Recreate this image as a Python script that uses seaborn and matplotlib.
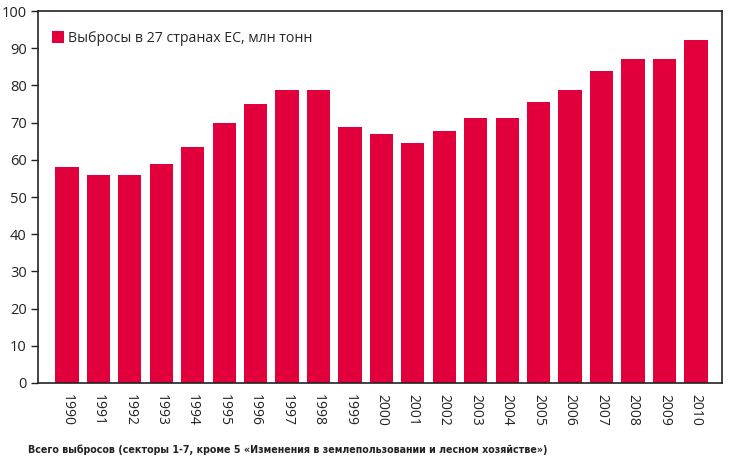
import matplotlib
matplotlib.use("Agg")
import matplotlib.pyplot as plt
import seaborn as sns
import pandas as pd
from matplotlib.patches import Patch

years = [str(y) for y in range(1990, 2011)]
values = [58.1, 56.0, 56.0, 59.0, 63.5, 69.8, 74.9, 78.7, 78.7, 68.7, 67.0,
          64.6, 67.7, 71.3, 71.3, 75.6, 78.7, 83.9, 87.2, 87.2, 92.2]
series_label = "Выбросы в 27 странах ЕС, млн тонн"
footnote = "Всего выбросов (секторы 1-7, кроме 5 «Изменения в землепользовании и лесном хозяйстве»)"
yticks = list(range(0, 101, 10))

sns.set_theme(style="white")
plt.rcParams['font.family'] = ['Open Sans', 'DejaVu Sans']

color = "#E2003C"
df = pd.DataFrame({"year": years, "value": values})

fig = plt.figure(figsize=(7.3, 4.62), dpi=100)
ax = fig.add_axes([0.052, 0.171, 0.937, 0.805])
sns.barplot(data=df, x="year", y="value", color=color, width=0.74,
            saturation=1, ax=ax, edgecolor="none")

ax.set_ylim(0, 100)
ax.set_xlim(-0.92, 20.83)
ax.set_yticks(yticks)
ax.set_yticklabels([str(t) for t in yticks], fontsize=10.5, color="#222222")
ax.set_xticks(range(len(years)))
ax.set_xticklabels(years, rotation=270, fontsize=10, color="#222222")
ax.tick_params(axis="y", direction="out", length=5, width=1, color="#222222", left=True, pad=3)
ax.tick_params(axis="x", length=0, pad=8)
ax.set_xlabel("")
ax.set_ylabel("")
for s in ax.spines.values():
    s.set_visible(True)
    s.set_color("#222222")
    s.set_linewidth(1.2)

leg = ax.legend(handles=[Patch(facecolor=color, edgecolor="none", label=series_label)],
                loc="upper left", frameon=False, fontsize=10.2,
                handlelength=0.85, handleheight=0.85, handletextpad=0.3,
                bbox_to_anchor=(0.0, 0.985), borderaxespad=0.6)

fig.text(0.038, 0.02, footnote, fontsize=7.7, fontweight="bold", color="#222222",
         family=["DejaVu Sans"], fontstretch="condensed")

fig.savefig("out.png", dpi=100)
